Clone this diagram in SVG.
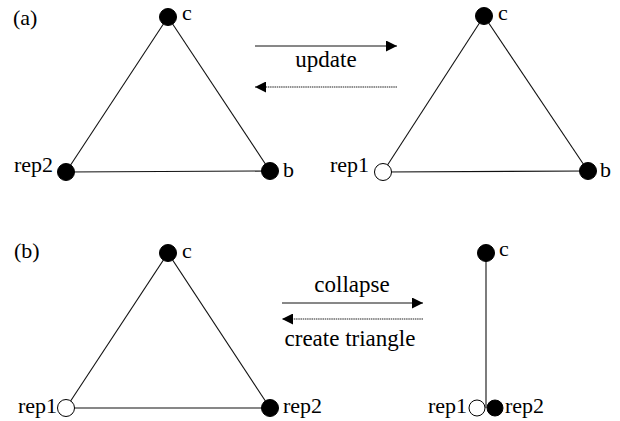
<svg xmlns="http://www.w3.org/2000/svg" width="620" height="421" viewBox="0 0 620 421" font-family="'Liberation Serif', 'Times New Roman', 'DejaVu Serif', serif">
<style>
text{font-family:'Liberation Serif','Times New Roman','DejaVu Serif',serif;font-size:22px;fill:#000}
.lbl{font-size:23px}
.edge{stroke:#111;stroke-width:1.1;fill:none}
.arr{stroke:#111;stroke-width:1;fill:none}
.dot{stroke:#222;stroke-width:1.1;stroke-dasharray:1.5 0.7;fill:none}
.full{fill:#000;stroke:#000;stroke-width:1}
.open{fill:#fff;stroke:#000;stroke-width:1}
</style>
<defs>
<marker id="ah" viewBox="0 0 10 10" refX="10" refY="5" markerWidth="11" markerHeight="11" markerUnits="userSpaceOnUse" orient="auto">
<path d="M0,0 L10,5 L0,10 Z" fill="#000"/>
</marker>
</defs>
<text x="13" y="25">(a)</text>
<text x="14" y="258">(b)</text>
<g id="connectors">
<line class="edge" x1="168" y1="17" x2="66" y2="172"/>
<line class="edge" x1="168" y1="17" x2="270" y2="171"/>
<line class="edge" x1="66" y1="172" x2="270" y2="171"/>
<line class="edge" x1="484" y1="16" x2="383" y2="172"/>
<line class="edge" x1="484" y1="16" x2="588" y2="171"/>
<line class="edge" x1="383" y1="172" x2="588" y2="171"/>
<line class="edge" x1="168" y1="253" x2="66" y2="408"/>
<line class="edge" x1="168" y1="253" x2="270" y2="408"/>
<line class="edge" x1="66" y1="408" x2="270" y2="408"/>
<line class="edge" x1="486" y1="253" x2="486" y2="408"/>
<line class="arr" x1="255" y1="46" x2="397" y2="46" marker-end="url(#ah)"/>
<line class="dot" x1="397" y1="87" x2="255" y2="87" marker-end="url(#ah)"/>
<text class="lbl" x="326" y="67" text-anchor="middle">update</text>
<line class="arr" x1="282" y1="303" x2="423" y2="303" marker-end="url(#ah)"/>
<line class="dot" x1="423" y1="319" x2="282" y2="319" marker-end="url(#ah)"/>
<text class="lbl" x="352" y="292" text-anchor="middle">collapse</text>
<text class="lbl" x="350" y="346" text-anchor="middle">create triangle</text>
</g>
<g id="a-left-c"><circle class="full" cx="168" cy="17" r="8.5"/><text x="182" y="20">c</text></g>
<g id="a-left-rep2"><circle class="full" cx="66" cy="172" r="8.5"/><text x="53" y="172" text-anchor="end">rep2</text></g>
<g id="a-left-b"><circle class="full" cx="270" cy="171" r="8.5"/><text x="283" y="177">b</text></g>
<g id="a-right-c"><circle class="full" cx="484" cy="16" r="8.5"/><text x="498" y="20">c</text></g>
<g id="a-right-rep1"><circle class="open" cx="383" cy="172" r="8.5"/><text x="369" y="172" text-anchor="end">rep1</text></g>
<g id="a-right-b"><circle class="full" cx="588" cy="171" r="8.5"/><text x="600" y="177">b</text></g>
<g id="b-left-c"><circle class="full" cx="168" cy="253" r="8.5"/><text x="182" y="258">c</text></g>
<g id="b-left-rep1"><circle class="open" cx="66" cy="408" r="8.5"/><text x="57" y="413" text-anchor="end">rep1</text></g>
<g id="b-left-rep2"><circle class="full" cx="270" cy="408" r="8.5"/><text x="283" y="413">rep2</text></g>
<g id="b-right-c"><circle class="full" cx="486" cy="253" r="8.5"/><text x="499" y="256">c</text></g>
<g id="b-right-rep1"><circle class="open" cx="477" cy="408" r="8"/><text x="467" y="413" text-anchor="end">rep1</text></g>
<g id="b-right-rep2"><circle class="full" cx="495" cy="408" r="8"/><text x="505" y="413">rep2</text></g>
</svg>
